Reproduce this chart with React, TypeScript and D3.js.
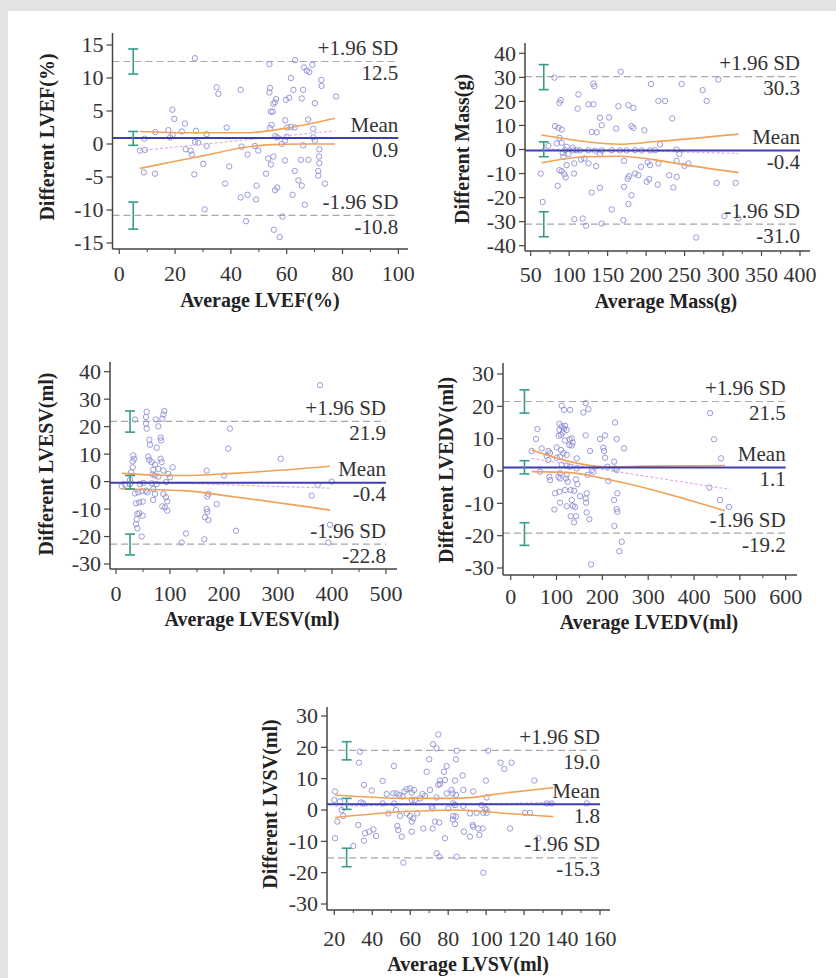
import React from 'react';
import * as d3 from 'd3';

const FONT = '"Liberation Serif", "Times New Roman", serif';

// ---- LVEF ----
const lvefPoints = [
  [27.1, 13.0], [53.8, 12.1], [63.0, 12.7], [66.2, 11.6], [67.2, 11.1], [69.2, 12.0], [68.1, 10.9], [61.5, 10.0], [72.4, 9.7], [72.5, 8.8],
  [34.9, 8.6], [35.5, 7.6], [43.5, 8.2], [54.0, 8.5], [53.8, 7.8], [62.4, 8.2], [65.9, 8.2], [77.7, 7.2], [56.2, 6.8], [59.7, 6.7],
  [60.9, 7.0], [65.4, 6.9], [70.1, 6.2], [55.2, 6.1], [55.8, 6.3], [54.3, 4.9], [55.0, 4.9], [19.0, 5.2], [19.7, 3.8], [23.5, 3.1],
  [59.5, 3.6], [67.7, 3.7], [60.2, 2.5], [61.5, 2.6], [62.9, 2.5], [38.5, 2.5], [17.6, 2.1], [22.4, 1.9], [27.5, 2.0], [12.9, 1.8],
  [31.3, 1.5], [54.6, 2.9], [54.0, 2.4], [69.5, 2.3], [19.1, 1.4], [18.2, 1.0], [9.0, 0.8], [27.1, 0.3], [28.3, 0.2], [31.3, -0.3],
  [23.8, -0.8], [7.4, -1.0], [9.2, -0.9], [25.6, -1.0], [26.0, -1.6], [30.1, -3.0], [43.8, -0.4], [48.6, -0.3], [46.0, -1.6], [49.8, -1.0],
  [58.2, 0.0], [59.4, 0.5], [56.6, 1.0], [55.9, 1.2], [60.0, 1.1], [69.5, 1.0], [70.1, 0.5], [65.9, -0.2], [71.7, -0.8], [71.6, -1.9],
  [71.7, -2.9], [65.1, -2.4], [67.8, -2.4], [59.4, -2.5], [53.4, -2.2], [54.3, -3.1], [55.2, -1.9], [8.8, -4.3], [12.8, -4.5], [26.9, -4.6],
  [39.4, -3.4], [37.9, -6.0], [52.6, -4.5], [62.9, -4.1], [71.3, -4.1], [71.3, -4.8], [73.7, -6.0], [64.2, -5.5], [65.4, -6.3], [49.2, -6.3],
  [55.8, -7.0], [56.6, -6.6], [43.5, -8.1], [46.0, -7.7], [49.0, -8.4], [62.1, -7.7], [66.5, -9.2], [30.6, -9.9], [45.4, -11.7], [58.5, -11.0],
  [55.4, -13.0], [57.5, -14.1],
];
const lvefLimits = [12.5, 0.9, -10.8];
const lvefLimitCI = [[10.6, 14.4], [-0.2, 1.9], [-12.9, -8.8]];
const lvefUpperBand = [[7.4, 1.9], [25, 1.7], [45, 1.7], [60, 2.4], [77.3, 3.9]];
const lvefLowerBand = [[7.4, -3.7], [20, -2.6], [30, -1.8], [45, -0.5], [55, -0.1], [65, 0], [77.3, 0]];
const lvefRegression = [[7.4, -1.0], [77.3, 2.0]];
const lvefXTicks = [0, 20, 40, 60, 80, 100];
const lvefYTicks = [-15, -10, -5, 0, 5, 10, 15];

// ---- Mass ----
const massPoints = [
  [80.8, 29.9], [167, 32.3], [206.4, 27.2], [246.2, 27.2], [293.9, 29.1], [131.4, 27.4], [132.7, 26.3], [273.5, 24.7], [278.7, 20.2], [89, 20.5],
  [87.3, 19.4], [112, 22.9], [125, 18.8], [131.4, 18.8], [111, 17], [164, 18], [177, 18.4], [183.4, 17.3], [216, 20.2], [224.6, 20.2],
  [140, 13.2], [151.8, 13.3], [234, 12.9], [81.6, 9.7], [86, 9], [90.3, 8.3], [142.3, 10.1], [161, 8.7], [181, 9.7], [183.4, 9],
  [197.7, 8], [129.3, 7.3], [135.8, 7.1], [87.3, 4.9], [90.3, 2.8], [83.8, 2.5], [96.8, 1.1], [104.6, 0.8], [218, 2.1], [73, 1.5],
  [94.6, -0.2], [105.4, -0.3], [114, -0.4], [125, -0.3], [133.6, -0.5], [142.3, -0.4], [155.3, -0.3], [166, -0.4], [174.7, -0.4], [185.6, -0.3],
  [194.3, -0.4], [205, -0.4], [211.6, -0.3], [239.7, 0], [243.2, -1.9], [91.6, -1.4], [99, -1.9], [109.8, -0.3], [140, -1.9], [92.5, -3],
  [96.8, -6.5], [106.7, -5.8], [115.4, -4.2], [119.7, -3.7], [125, -5.8], [135, -6.9], [171.3, -4.7], [193.4, -7.2], [202, -5.4], [205, -6.5],
  [216, -5.8], [239.7, -4.7], [249.7, -6.8], [254.9, -5.8], [87.3, -8.6], [90.3, -9], [93.8, -10.3], [95.5, -11.6], [106.3, -10], [177.8, -11.1],
  [176, -12.1], [185.6, -10], [190, -10.7], [200.7, -13.4], [204.1, -12.3], [215, -14.6], [230, -10.7], [239.7, -11.4], [235.4, -15.8], [291.7, -13.9],
  [316.4, -13.9], [85, -15.1], [140, -15.9], [129.3, -17.9], [171.3, -15.5], [181, -19], [177, -22.7], [65.6, -21.8], [155.3, -24.9], [106.7, -29],
  [117.6, -28.7], [122, -31.7], [142.3, -30.8], [170.4, -29.4], [301.7, -27.7], [320, -28.7], [264.9, -36.6], [63, -10],
];
const massLimits = [30.3, -0.4, -31.0];
const massLimitCI = [[24.9, 35.3], [-3.0, 3.2], [-36.3, -25.9]];
const massUpperBand = [[64.3, 6.0], [122.8, 3.2], [166, 2.2], [209.4, 3.2], [320, 6.4]];
const massLowerBand = [[64.3, -5.5], [122.8, -3], [166, -2.8], [209.4, -4.2], [252.7, -6.5], [320, -9.6]];
const massRegression = [[64.3, 0.3], [320, -1.6]];
const massXTicks = [50, 100, 150, 200, 250, 300, 350, 400];
const massYTicks = [-40, -30, -20, -10, 0, 10, 20, 30, 40];

// ---- LVESV ----
const lvesvPoints = [
  [377.8, 35.1], [56.8, 25.4], [55.6, 23.5], [89.5, 25.7], [87.7, 24.4], [85.8, 22.9], [73.5, 22.6], [35.2, 22.6], [211, 19.3], [55.6, 21.1],
  [56.8, 19.3], [78.4, 20.1], [61.7, 15.2], [63, 13.4], [82.7, 16], [83.3, 15], [75.3, 12.3], [208, 12], [32, 9.5], [34, 8.3],
  [30.9, 7.4], [59.9, 9.1], [61.7, 7.9], [66, 7.1], [72.2, 6.2], [82.7, 8.3], [84.6, 7.1], [305, 8.3], [30.9, 5.2], [28, 3.4],
  [69, 4.3], [78.4, 4.6], [105, 5.2], [87.7, 4], [168, 4], [67.9, 2.6], [72.2, 2.2], [78.4, 1.8], [96.9, 2.8], [100, 1.6],
  [200, 2.2], [10.5, -1.7], [16.7, -1.1], [26, 0.6], [26, -0.9], [44.4, -0.9], [50.6, -0.5], [66, -0.6], [75.3, -0.9], [92.6, -0.2],
  [373.5, -1.2], [399.4, 0], [35.2, -4.3], [41.4, -3.9], [47.5, -3.5], [55.6, -3.3], [58, -3.9], [69, -2.7], [72.2, -4.5], [87.7, -4.5],
  [92.6, -5.7], [95, -7.2], [171, -4.5], [169.1, -5.4], [362.3, -5.1], [37, -7.9], [43.2, -7.6], [49.4, -7.3], [69, -6.7], [85.8, -9],
  [90.7, -9.4], [95, -10.6], [186.4, -8.2], [168, -10], [169.1, -11], [39.5, -11.8], [43.2, -11.5], [49.4, -12.4], [38.3, -13.7], [37, -15.5],
  [39.5, -17], [164.8, -13], [171, -14], [47.5, -20], [129.6, -18.9], [222.2, -17.9], [121.6, -22.2], [163.6, -21], [396.3, -15.7], [393.2, -22.2],
];
const lvesvLimits = [21.9, -0.4, -22.8];
const lvesvLimitCI = [[18.0, 25.7], [-2.7, 2.2], [-26.7, -19.1]];
const lvesvUpperBand = [[10.5, 3.0], [69, 2.4], [124.7, 2.2], [217.3, 3.0], [396.3, 5.6]];
const lvesvLowerBand = [[10.5, -2.7], [124.7, -3.3], [217.3, -5.5], [396.3, -10.4]];
const lvesvRegression = [[10.5, 0.1], [396.3, -2.4]];
const lvesvXTicks = [0, 100, 200, 300, 400, 500];
const lvesvYTicks = [-30, -20, -10, 0, 10, 20, 30, 40];

// ---- LVEDV ----
const lvedvPoints = [
  [111.3, 20.2], [116.4, 18.9], [129.5, 18.9], [163.6, 21], [158.5, 18.1], [169.5, 19.1], [227.6, 15], [434.9, 17.9], [443.6, 9.8], [458.9, 3.9],
  [58.2, 13], [55.3, 9.9], [45.8, 6.2], [67.6, 7], [106.2, 14.6], [111.3, 13.8], [116.4, 13.1], [106.2, 12.7], [113.5, 11.9], [118.5, 14],
  [122.2, 12.7], [104.7, 10.9], [109.8, 11.2], [128, 9.8], [133.1, 10.1], [118.5, 9.4], [128, 8], [133.1, 7.9], [135.3, 8.8], [163.6, 11],
  [194.9, 9.9], [205.8, 11], [231.3, 9.9], [247.3, 7], [202.2, 7.2], [203.6, 6.2], [173.1, 6.2], [82.2, 6.2], [85.8, 5.5], [78.5, 4.7],
  [100.4, 7.3], [109.8, 6.5], [114.9, 5.5], [122.2, 5], [100.4, 4.1], [107.6, 4.4], [144, 3.9], [205.8, 4.1], [225.5, 2.9], [82.2, 3.4],
  [64, -0.2], [111.3, 1.9], [122.2, 1.7], [129.5, 1.3], [144, 0.8], [176.7, 0.3], [180.4, -0.2], [210.9, 1.3], [227.6, 0.8], [231.3, 0.3],
  [107.6, -0.7], [122.2, -1.2], [84.4, -1.8], [85.8, -2.8], [104, -1.8], [107.6, -2.3], [120.7, -2.3], [124.4, -3.3], [142.5, -2.6], [145.5, -4.1],
  [168, -1.2], [213.1, -3.1], [96.7, -6.9], [106.2, -6.4], [118.5, -5.9], [130.9, -5.9], [138.2, -6.1], [151.3, -7.8], [165.8, -6.9], [163.6, -8.5],
  [232.7, -6.9], [107.6, -9.8], [122.2, -10.9], [135.3, -10.8], [140.4, -11.1], [133.1, -9], [164.4, -9.8], [225.5, -9], [95.3, -11.9], [231.3, -11.8],
  [232.7, -12.6], [165.8, -12.8], [171.6, -14.9], [130.9, -14], [142.5, -14], [138.2, -15.9], [226.2, -17], [242.2, -21.9], [237.1, -24.8], [175.3, -28.9],
  [433.5, -5.1], [456.7, -9], [476.4, -11.1],
];
const lvedvLimits = [21.5, 1.1, -19.2];
const lvedvLimitCI = [[17.9, 25.1], [-0.9, 3.2], [-23, -16]];
const lvedvUpperBand = [[45.8, 6.5], [129.5, 2.9], [202.2, 1.3], [300, 1.5], [467.6, 1.7]];
const lvedvLowerBand = [[45.8, -0.2], [129.5, -0.5], [202.2, -2.3], [467.6, -12.3]];
const lvedvRegression = [[45.8, 3.9], [478.5, -5.7]];
const lvedvXTicks = [0, 100, 200, 300, 400, 500, 600];
const lvedvYTicks = [-30, -20, -10, 0, 10, 20, 30];

// ---- LVSV ----
const lvsvPoints = [
  [74.8, 24.1], [72, 21], [73.9, 19.7], [33.5, 18.6], [33, 15.1], [51.4, 14], [101, 18.9], [84.5, 18.9], [70, 16.2], [84.1, 16.2],
  [107.6, 15.1], [109.6, 13.1], [113.4, 15.1], [68.7, 12.2], [77.8, 12.2], [87.6, 11], [79.2, 14], [45.5, 9.3], [75.7, 9.4], [78.3, 9.6],
  [83.6, 9.4], [99.9, 9.4], [125.4, 9.4], [35.6, 8], [39.7, 6.2], [47.6, 5.1], [51.1, 5.3], [52.8, 5.3], [54.3, 4.8], [56, 4.3],
  [56.9, 5.9], [58.1, 6.6], [59.9, 6.9], [60.8, 5.5], [62, 6.4], [66.5, 5.1], [67.8, 4.5], [70.4, 6.4], [74.8, 8], [75.7, 8.3],
  [73.9, 4], [79.2, 5.3], [82.4, 5.3], [84.1, 4.8], [88, 6.4], [81.8, 6.4], [93.2, 5.9], [100.3, 4], [20.4, 5.9], [20, 3.2],
  [23, 2.7], [34, 2.4], [35.3, 2.1], [45.5, 2.1], [51.6, 2.1], [60.8, 3.2], [62.5, 3.2], [65.1, 3.7], [71.3, 1.1], [82.7, 2.1],
  [83.6, 1.6], [88, 1.3], [97.6, 1.6], [99.4, 0.5], [100.3, 0], [131.9, 2.1], [134.5, 2.1], [153, 2.1], [23.9, 0], [24.7, -1.9],
  [48.5, -1.1], [52.5, 0], [54.6, -1.9], [58.1, -1.1], [59.9, -1.9], [61.6, -2.7], [60.8, -3.7], [63.7, -1.1], [71.8, 0.5], [80.1, 0.5],
  [82.7, -1.9], [84.1, -2.1], [91.5, -1.1], [95, -0.9], [98.5, -0.9], [100.3, -0.9], [120.5, -0.9], [123.1, -0.9], [21.6, -3.7], [32.6, -4.8],
  [40.6, -6.2], [38.4, -6.9], [36.2, -7.4], [42, -8.3], [35.6, -9.8], [20.4, -9], [30, -11.5], [53.2, -5.1], [53.7, -6.4], [55.5, -8.5],
  [60.8, -6.9], [66.9, -5.9], [71.8, -5.9], [73, -3.7], [75.3, -4], [82.4, -3], [83.6, -4.5], [88.3, -6.9], [91.5, -8.5], [92.9, -4.8],
  [93.2, -5.3], [95.9, -5.9], [96.4, -8], [98.2, -5.9], [112.6, -5.9], [127.5, -9], [78.3, -9], [73.9, -13.8], [75.3, -14.9], [84.5, -14.9],
  [56.4, -16.8], [98.5, -20],
];
const lvsvLimits = [19.0, 1.8, -15.3];
const lvsvLimitCI = [[16, 21.8], [0.2, 3.7], [-18.1, -12.2]];
const lvsvUpperBand = [[20.4, 4.8], [58.1, 3.7], [84.5, 3.7], [110.8, 5.5], [135.4, 7.1]];
const lvsvLowerBand = [[20.4, -2.4], [58.1, -0.5], [84.5, 0], [110.8, -1.1], [135.4, -2.1]];
const lvsvRegression = [[20.4, 1.2], [135.4, 2.4]];
const lvsvXTicks = [20, 40, 60, 80, 100, 120, 140, 160];
const lvsvYTicks = [-30, -20, -10, 0, 10, 20, 30];

// layout of each panel (pixels)
const panels = [
  {
    key: 'lvef', xTitle: 'Average LVEF(%)', yTitle: 'Different LVEF(%)',
    points: lvefPoints, limits: lvefLimits, limitCI: lvefLimitCI, upper: lvefUpperBand, lower: lvefLowerBand, reg: lvefRegression,
    xTicks: lvefXTicks, yTicks: lvefYTicks, ciX: 5,
    xRange: [119.3, 398.3], yRange: [243, 45], frame: [112.5, 408, 33, 249],
    yTitlePos: [54, 137], xTitlePos: [260, 307], tickBase: 281,
  },
  {
    key: 'mass', xTitle: 'Average Mass(g)', yTitle: 'Different Mass(g)',
    points: massPoints, limits: massLimits, limitCI: massLimitCI, upper: massUpperBand, lower: massLowerBand, reg: massRegression,
    xTicks: massXTicks, yTicks: massYTicks, ciX: 67,
    xRange: [530.7, 800], yRange: [245.7, 53.3], frame: [525, 810, 43, 251],
    yTitlePos: [469, 149], xTitlePos: [666, 308], tickBase: 282,
  },
  {
    key: 'lvesv', xTitle: 'Average LVESV(ml)', yTitle: 'Different LVESV(ml)',
    points: lvesvPoints, limits: lvesvLimits, limitCI: lvesvLimitCI, upper: lvesvUpperBand, lower: lvesvLowerBand, reg: lvesvRegression,
    xTicks: lvesvXTicks, yTicks: lvesvYTicks, ciX: 26,
    xRange: [116, 386], yRange: [564, 371.7], frame: [110, 397, 362, 569],
    yTitlePos: [53, 464], xTitlePos: [252, 626], tickBase: 601,
  },
  {
    key: 'lvedv', xTitle: 'Average LVEDV(ml)', yTitle: 'Different LVEDV(ml)',
    points: lvedvPoints, limits: lvedvLimits, limitCI: lvedvLimitCI, upper: lvedvUpperBand, lower: lvedvLowerBand, reg: lvedvRegression,
    xTicks: lvedvXTicks, yTicks: lvedvYTicks, ciX: 30,
    xRange: [510.7, 785.7], yRange: [568, 374], frame: [503, 797, 363, 575],
    yTitlePos: [453, 470], xTitlePos: [649, 629], tickBase: 604,
  },
  {
    key: 'lvsv', xTitle: 'Average LVSV(ml)', yTitle: 'Different LVSV(ml)',
    points: lvsvPoints, limits: lvsvLimits, limitCI: lvsvLimitCI, upper: lvsvUpperBand, lower: lvsvLowerBand, reg: lvsvRegression,
    xTicks: lvsvXTicks, yTicks: lvsvYTicks, ciX: 26.5,
    xRange: [334.3, 600], yRange: [904, 716], frame: [327, 610, 707, 910],
    yTitlePos: [277, 804], xTitlePos: [468, 971], tickBase: 946,
  },
];

const Panel = ({ p }) => {
  const x = d3.scaleLinear().domain([p.xTicks[0], p.xTicks[p.xTicks.length - 1]]).range(p.xRange);
  const y = d3.scaleLinear().domain([p.yTicks[0], p.yTicks[p.yTicks.length - 1]]).range(p.yRange);
  const [left, right, top, bottom] = p.frame;
  const xEnd = x(p.xTicks[p.xTicks.length - 1]);
  const minorX = p.xTicks.slice(1).map((t, i) => (t + p.xTicks[i]) / 2);
  const curve = d3.line().x(d => x(d[0])).y(d => y(d[1])).curve(d3.curveMonotoneX);
  const [hi, mean, lo] = p.limits;
  const labels = [
    { v: hi, name: '+1.96 SD' },
    { v: mean, name: 'Mean' },
    { v: lo, name: '-1.96 SD' },
  ];
  const axisColor = '#444';
  const tickTxt = { fontFamily: FONT, fontSize: 22, fill: '#333' };
  const noteTxt = { fontFamily: FONT, fontSize: 21, fill: '#333' };

  return (
    <g>
      {/* limits of agreement */}
      {[hi, lo].map(v => (
        <line key={v} x1={left} x2={xEnd} y1={y(v)} y2={y(v)} stroke="#a8a8a8" strokeWidth={1.2} strokeDasharray="7,4" />
      ))}
      {/* scatter */}
      {p.points.map((d, i) => (
        <circle key={i} cx={x(d[0])} cy={y(d[1])} r={2.7} fill="none" stroke="#8d8ed4" strokeWidth={0.9} />
      ))}
      {/* regression band */}
      <path d={curve(p.reg)} fill="none" stroke="#d8a2ee" strokeWidth={1} strokeDasharray="3,2" />
      <path d={curve(p.upper)} fill="none" stroke="#f0a258" strokeWidth={1.6} />
      <path d={curve(p.lower)} fill="none" stroke="#f0a258" strokeWidth={1.6} />
      {/* mean */}
      <line x1={left} x2={xEnd} y1={y(mean)} y2={y(mean)} stroke="#3d3db4" strokeWidth={2} />
      {/* confidence intervals of the limits */}
      {p.limitCI.map((ci, i) => (
        <g key={i} stroke="#3a9a8c" strokeWidth={1.6}>
          <line x1={x(p.ciX)} x2={x(p.ciX)} y1={y(ci[0])} y2={y(ci[1])} />
          <line x1={x(p.ciX) - 5} x2={x(p.ciX) + 5} y1={y(ci[0])} y2={y(ci[0])} />
          <line x1={x(p.ciX) - 5} x2={x(p.ciX) + 5} y1={y(ci[1])} y2={y(ci[1])} />
        </g>
      ))}
      {/* axes */}
      <line x1={left} x2={left} y1={top} y2={bottom} stroke={axisColor} strokeWidth={1.5} />
      <line x1={left} x2={right} y1={bottom} y2={bottom} stroke={axisColor} strokeWidth={1.5} />
      {p.yTicks.map(t => (
        <g key={t}>
          <line x1={left - 6} x2={left} y1={y(t)} y2={y(t)} stroke={axisColor} strokeWidth={1.2} />
          <text x={left - 9} y={y(t)} dy="0.34em" textAnchor="end" {...tickTxt}>{String(t)}</text>
        </g>
      ))}
      {p.xTicks.map(t => (
        <g key={t}>
          <line x1={x(t)} x2={x(t)} y1={bottom} y2={bottom + 5} stroke={axisColor} strokeWidth={1.2} />
          <text x={x(t)} y={p.tickBase} textAnchor="middle" {...tickTxt}>{String(t)}</text>
        </g>
      ))}
      {minorX.map(t => (
        <line key={t} x1={x(t)} x2={x(t)} y1={bottom} y2={bottom + 3} stroke={axisColor} strokeWidth={1} />
      ))}
      {/* annotations */}
      {labels.map(l => (
        <g key={l.name}>
          <text x={xEnd} y={y(l.v) - 6.5} textAnchor="end" {...noteTxt}>{l.name}</text>
          <text x={xEnd} y={y(l.v) + 18.5} textAnchor="end" {...noteTxt}>{l.v.toFixed(1)}</text>
        </g>
      ))}
      {/* titles */}
      <text x={p.xTitlePos[0]} y={p.xTitlePos[1]} textAnchor="middle" fontFamily={FONT} fontSize={20} fontWeight="bold" fill="#222">{p.xTitle}</text>
      <text transform={`translate(${p.yTitlePos[0]},${p.yTitlePos[1]}) rotate(-90)`} textAnchor="middle" fontFamily={FONT} fontSize={20} fontWeight="bold" fill="#222">{p.yTitle}</text>
    </g>
  );
};

export default function App() {
  return (
    <svg width={836} height={978} style={{ position: 'absolute', left: 0, top: 0 }}>
      <rect x={0} y={0} width={836} height={978} fill="#e4e4e4" />
      <rect x={8} y={11} width={828} height={967} fill="#ffffff" />
      {panels.map(p => <Panel key={p.key} p={p} />)}
    </svg>
  );
}
